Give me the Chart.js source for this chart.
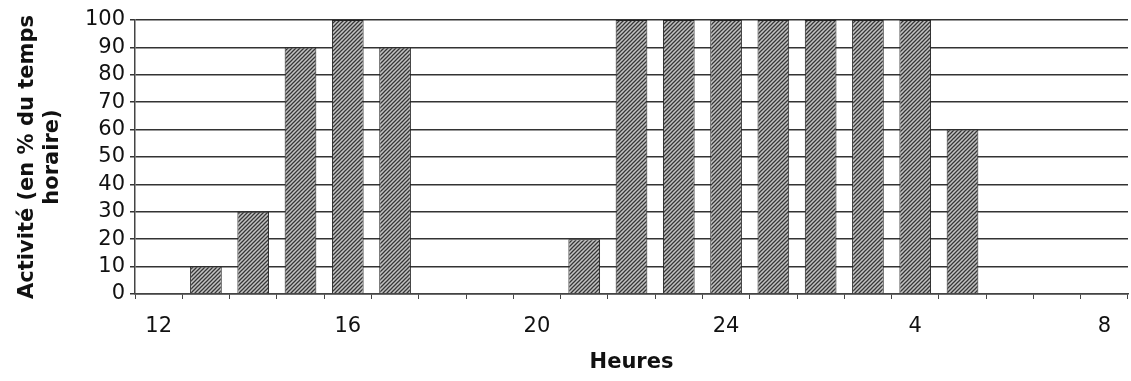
<!DOCTYPE html>
<html>
<head>
<meta charset="utf-8">
<script src="https://cdn.jsdelivr.net/npm/chart.js@4.4.0/dist/chart.umd.min.js"></script>
<style>
  html, body { margin: 0; padding: 0; background: #fff; }
  #wrap { width: 1131px; height: 381px; }
</style>
</head>
<body>
<div id="wrap"><canvas id="activityChart" width="1131" height="381"></canvas></div>
<script>
// Hours of the day, from noon to 8 in the morning
const hours = ['12', '13', '14', '15', '16', '17', '18', '19', '20', '21', '22', '23',
  '24', '1', '2', '3', '4', '5', '6', '7', '8'];
// Activity (% of the hour)
const activity = [0, 10, 30, 90, 100, 90, 0, 0, 0, 20, 100, 100,
  100, 100, 100, 100, 100, 60, 0, 0, 0];
// Only every 4th hour gets a label
const shownLabels = ['12', '16', '20', '24', '4', '8'];

// Hatched fill like the scanned figure
function makeHatch() {
  const c = document.createElement('canvas');
  c.width = 4;
  c.height = 4;
  const g = c.getContext('2d');
  g.fillStyle = '#c2c2c2';
  g.fillRect(0, 0, 4, 4);
  g.strokeStyle = '#363636';
  g.lineWidth = 1.25;
  g.beginPath();
  g.moveTo(-1, 5); g.lineTo(5, -1);
  g.moveTo(-1, 1); g.lineTo(1, -1);
  g.moveTo(3, 5); g.lineTo(5, 3);
  g.stroke();
  return g.createPattern(c, 'repeat');
}

document.addEventListener('DOMContentLoaded', function() {
  const ctx = document.getElementById('activityChart').getContext('2d');

  new Chart(ctx, {
    type: 'bar',
    data: {
      labels: hours,
      datasets: [{
        data: activity,
        backgroundColor: makeHatch(),
        borderColor: '#222',
        borderWidth: 1,
        barPercentage: 0.67,
        categoryPercentage: 1
      }]
    },
    options: {
      responsive: false,
      animation: false,
      layout: { padding: { top: 20, right: 3, left: 0, bottom: 0 } },
      plugins: {
        legend: { display: false },
        tooltip: { enabled: false }
      },
      scales: {
        x: {
          afterFit: function(s) { s.height = 87; },
          grid: {
            offset: true,
            drawOnChartArea: false,
            drawTicks: true,
            tickLength: 5,
            color: '#444'
          },
          border: { color: '#444', width: 1.5 },
          ticks: {
            autoSkip: false,
            maxRotation: 0,
            padding: 15,
            color: '#111',
            font: { family: 'DejaVu Sans', size: 21 },
            callback: function(v, i) {
              const h = hours[i];
              return shownLabels.includes(h) ? h : '';
            }
          },
          title: {
            display: true,
            text: 'Heures',
            color: '#111',
            font: { family: 'DejaVu Sans', size: 21, weight: 'bold' },
            padding: { top: 4, bottom: 6 }
          }
        },
        y: {
          min: 0,
          max: 100,
          afterFit: function(s) { s.width = 135; },
          grid: {
            color: '#333',
            lineWidth: 1.5,
            tickLength: 5
          },
          border: { color: '#444', width: 1.5 },
          ticks: {
            stepSize: 10,
            autoSkip: false,
            padding: 5,
            color: '#111',
            font: { family: 'DejaVu Sans', size: 21, lineHeight: 1 }
          },
          title: {
            display: true,
            text: ['Activité (en % du temps', 'horaire)'],
            color: '#111',
            font: { family: 'DejaVu Sans', size: 21, weight: 'bold', lineHeight: 1.2 },
            padding: { top: 15, bottom: 0 }
          }
        }
      }
    }
  });
});
</script>
</body>
</html>
